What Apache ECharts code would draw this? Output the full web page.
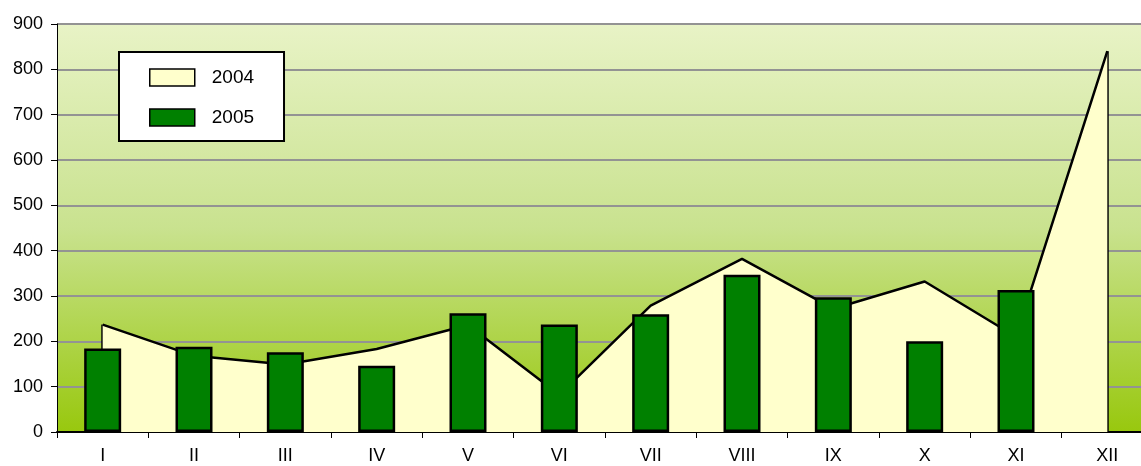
<!DOCTYPE html>
<html>
<head>
<meta charset="utf-8">
<script src="https://cdn.jsdelivr.net/npm/echarts@6/dist/echarts.min.js"></script>
<style>
  html, body { margin: 0; padding: 0; background: #fff; }
  #chart { width: 1141px; height: 466px; }
</style>
</head>
<body>
<div id="chart"></div>
<script>
// months as roman numerals
var months = ['I', 'II', 'III', 'IV', 'V', 'VI', 'VII', 'VIII', 'IX', 'X', 'XI', 'XII'];
// 2004 - area behind
var data2004 = [237, 168, 149, 183, 236, 82, 279, 382, 272, 332, 210, 840];
// 2005 - bars
var data2005 = [184, 188, 176, 146, 262, 237, 260, 347, 297, 200, 313, null];
var yTicks = { min: 0, max: 900, interval: 100 };

(function () {
    var myChart = echarts.init(document.getElementById('chart'));
    var font = 'Liberation Sans, Arial, sans-serif';
    var last = months.length - 1;

    var option = {
        animation: false,
        textStyle: { fontFamily: font },
        legend: {
            orient: 'vertical',
            left: 119,
            top: 52,
            padding: [16, 30, 14, 30],
            itemGap: 21,
            itemWidth: 45,
            itemHeight: 17,
            backgroundColor: '#ffffff',
            borderColor: '#000000',
            borderWidth: 2,
            borderRadius: 0,
            textStyle: { fontSize: 19, color: '#000', padding: [0, 0, 0, 12], fontFamily: font },
            data: [
                { name: '2004', icon: 'rect', itemStyle: { color: '#ffffcc', borderColor: '#000', borderWidth: 1.5 } },
                { name: '2005', icon: 'rect', itemStyle: { color: '#008000', borderColor: '#000', borderWidth: 1.5 } }
            ]
        },
        // plot runs a bit past the right edge, like the original
        grid: {
            left: 57,
            right: -12,
            top: 24,
            bottom: 34,
            containLabel: false,
            outerBoundsMode: 'none',
            show: true,
            borderWidth: 0,
            backgroundColor: new echarts.graphic.LinearGradient(0, 0, 0, 1, [
                { offset: 0, color: '#e8f3c6' },
                { offset: 0.5, color: '#c9e28f' },
                { offset: 1, color: '#98c80e' }
            ])
        },
        xAxis: {
            type: 'category',
            data: months,
            boundaryGap: true,
            axisLine: { lineStyle: { color: '#000', width: 2 } },
            axisTick: { show: true, length: 6, lineStyle: { color: '#000', width: 1 } },
            axisLabel: { fontSize: 18, color: '#000', margin: 15, fontFamily: font },
            splitLine: { show: false }
        },
        yAxis: {
            type: 'value',
            min: yTicks.min,
            max: yTicks.max,
            interval: yTicks.interval,
            axisLine: { show: true, lineStyle: { color: '#000', width: 1 } },
            axisTick: { show: true, length: 6, lineStyle: { color: '#000' } },
            axisLabel: { fontSize: 18, color: '#000', margin: 14, fontFamily: font },
            splitLine: { show: true, lineStyle: { color: '#939393', width: 2 } }
        },
        series: [
            {
                name: '2004',
                type: 'line',
                data: data2004,
                symbol: 'none',
                z: 2,
                itemStyle: { color: '#ffffcc' },
                lineStyle: { color: '#000', width: 2.5 },
                areaStyle: { color: '#ffffcc', opacity: 1 },
                markLine: {
                    silent: true,
                    z: 2,
                    symbol: 'none',
                    label: { show: false },
                    lineStyle: { color: '#000', width: 2.5, type: 'solid' },
                    data: [
                        [{ coord: [months[0], 0] }, { coord: [months[0], data2004[0]] }],
                        [{ coord: [months[last], 0] }, { coord: [months[last], data2004[last]] }]
                    ]
                }
            },
            {
                name: '2005',
                type: 'bar',
                data: data2005,
                barWidth: 37,
                z: 3,
                itemStyle: { color: '#008000', borderColor: '#000', borderWidth: 2.5 }
            }
        ]
    };

    myChart.setOption(option);
})();
</script>
</body>
</html>
